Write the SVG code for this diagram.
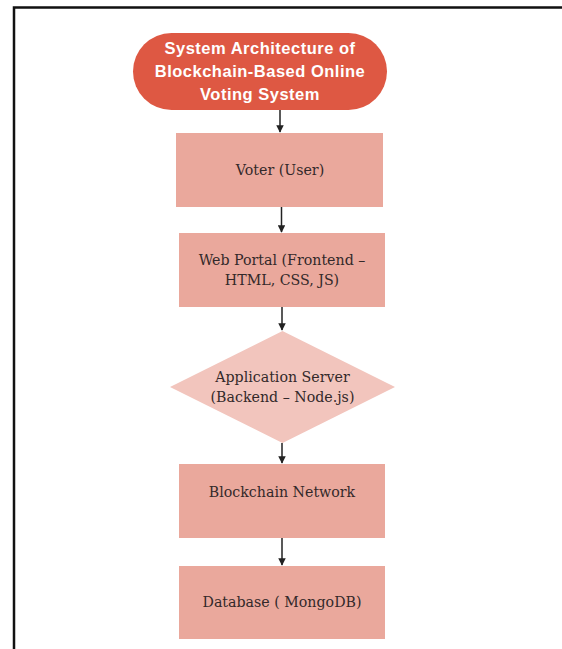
<svg xmlns="http://www.w3.org/2000/svg" width="562" height="649" viewBox="0 0 562 649">
<style>
.box{fill:#EAA89C;}
.dia{fill:#F2C5BD;}
.lbl{font-family:"DejaVu Serif","Liberation Serif",serif;font-size:14.2px;fill:#33292a;text-anchor:middle;}
.ttl{font-family:"Liberation Sans",Arial,sans-serif;font-weight:bold;font-size:16.5px;letter-spacing:0.5px;fill:#fff;text-anchor:middle;}
.con{stroke:#222;stroke-width:1.5;fill:none;marker-end:url(#ah);}
</style>
<defs>
<marker id="ah" viewBox="0 0 10 10" refX="9" refY="5" markerWidth="5" markerHeight="5" orient="auto">
<path d="M0,0 L10,5 L0,10 z" fill="#222"/>
</marker>
</defs>
<rect width="562" height="649" fill="#fff"/>
<path d="M14,649 L14,7.5 L562,7.5" stroke="#111" stroke-width="2.5" fill="none"/>
<g id="title">
<rect x="133" y="33" width="254" height="77" rx="38.5" fill="#DE5843"/>
<text class="ttl" x="260" y="54">System Architecture of</text>
<text class="ttl" x="260" y="77">Blockchain-Based Online</text>
<text class="ttl" x="260" y="100">Voting System</text>
</g>
<g id="voter">
<rect class="box" x="176" y="133" width="207" height="74"/>
<text class="lbl" x="280" y="175">Voter (User)</text>
</g>
<g id="webportal">
<rect class="box" x="179" y="233" width="206" height="74"/>
<text class="lbl" x="282" y="265">Web Portal (Frontend –</text>
<text class="lbl" x="282" y="285">HTML, CSS, JS)</text>
</g>
<g id="appserver">
<polygon class="dia" points="282.5,331 395,387 282.5,443 170,387"/>
<text class="lbl" x="282.5" y="382">Application Server</text>
<text class="lbl" x="282.5" y="402">(Backend – Node.js)</text>
</g>
<g id="blockchain">
<rect class="box" x="179" y="464" width="206" height="74"/>
<text class="lbl" x="282" y="497">Blockchain Network</text>
</g>
<g id="database">
<rect class="box" x="179" y="566" width="206" height="73"/>
<text class="lbl" x="282" y="607">Database ( MongoDB)</text>
</g>
<g id="connectors">
<line class="con" x1="280" y1="110" x2="280" y2="132"/>
<line class="con" x1="281.5" y1="207" x2="281.5" y2="232"/>
<line class="con" x1="282" y1="307" x2="282" y2="330"/>
<line class="con" x1="282" y1="443" x2="282" y2="463"/>
<line class="con" x1="282" y1="538" x2="282" y2="565"/>
</g>
</svg>
